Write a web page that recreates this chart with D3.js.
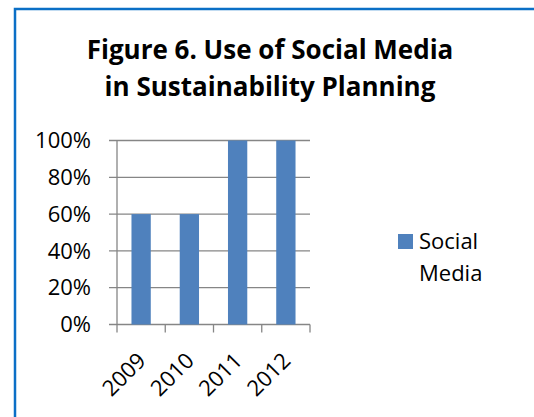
<!DOCTYPE html>
<html>
<head>
<meta charset="utf-8">
<script src="https://cdn.jsdelivr.net/npm/d3@7"></script>
<style>
  html, body { margin: 0; padding: 0; background: #fff; }
  svg { display: block; }
  text { font-family: "Open Sans", sans-serif; fill: #000; }
</style>
</head>
<body>
<svg id="chart" width="534" height="417"></svg>
<script>
const categories = ["2009", "2010", "2011", "2012"];
const socialMedia = [0.6, 0.6, 1.0, 1.0];
const yTicks = [0, 0.2, 0.4, 0.6, 0.8, 1.0];
const titleLines = ["Figure 6. Use of Social Media", "in Sustainability Planning"];
const seriesName = ["Social", "Media"];

const svg = d3.select("#chart");
const W = 534, H = 417;

// border
svg.append("rect")
  .attr("x", 15).attr("y", 9)
  .attr("width", W + 20).attr("height", H + 20)
  .attr("fill", "#fff")
  .attr("stroke", "#0B6FC6")
  .attr("stroke-width", 2.5);

// title (two separate lines)
svg.append("g")
  .selectAll("text")
  .data(titleLines)
  .join("text")
  .attr("text-anchor", "middle")
  .attr("font-weight", "bold")
  .attr("font-size", 26)
  .attr("x", 270)
  .attr("y", (d, i) => 59 + i * 37)
  .text(d => d);

const plot = { left: 117, right: 310, top: 140.5, bottom: 324.5 };

const x = d3.scaleBand()
  .domain(categories)
  .range([plot.left, plot.right])
  .paddingInner(0.6)
  .paddingOuter(0.3);

const y = d3.scaleLinear()
  .domain([0, 1])
  .range([plot.bottom, plot.top]);

const gridColor = "#868686";

// gridlines + y ticks
svg.append("g")
  .selectAll("line")
  .data(yTicks)
  .join("line")
  .attr("x1", plot.left - 8)
  .attr("x2", plot.right)
  .attr("y1", d => y(d))
  .attr("y2", d => y(d))
  .attr("stroke", gridColor)
  .attr("stroke-width", 1.3);

// y axis line
svg.append("line")
  .attr("x1", plot.left).attr("x2", plot.left)
  .attr("y1", plot.top).attr("y2", plot.bottom)
  .attr("stroke", gridColor).attr("stroke-width", 1.3);

// y labels
svg.append("g")
  .selectAll("text")
  .data(yTicks)
  .join("text")
  .attr("x", 91)
  .attr("y", d => y(d))
  .attr("dy", "0.35em")
  .attr("text-anchor", "end")
  .attr("font-size", 22)
  .text(d => d3.format(".0%")(d));

// bars
svg.append("g")
  .selectAll("rect")
  .data(categories)
  .join("rect")
  .attr("x", d => x(d))
  .attr("width", x.bandwidth())
  .attr("y", (d, i) => y(socialMedia[i]))
  .attr("height", (d, i) => y(0) - y(socialMedia[i]))
  .attr("fill", "#4F81BD");

// x tick marks at category boundaries
const step = x.step();
const bounds = categories.map(d => x(d) - step * x.paddingInner() / 2);
bounds.push(plot.right);
svg.append("g")
  .selectAll("line")
  .data(bounds)
  .join("line")
  .attr("x1", d => d).attr("x2", d => d)
  .attr("y1", plot.bottom).attr("y2", plot.bottom + 8)
  .attr("stroke", gridColor).attr("stroke-width", 1.3);

// x labels
svg.append("g")
  .selectAll("text")
  .data(categories)
  .join("text")
  .attr("text-anchor", "end")
  .attr("font-size", 22)
  .attr("transform", d => `translate(${x(d) + x.bandwidth() / 2 + 6},${plot.bottom + 37.5}) rotate(-45)`)
  .text(d => d);

// legend
svg.append("rect")
  .attr("x", 398).attr("y", 234)
  .attr("width", 15).attr("height", 15)
  .attr("fill", "#4F81BD");
svg.append("text")
  .attr("font-size", 22)
  .selectAll("tspan")
  .data(seriesName)
  .join("tspan")
  .attr("x", 419)
  .attr("y", (d, i) => 249 + i * 32)
  .text(d => d);
</script>
</body>
</html>
